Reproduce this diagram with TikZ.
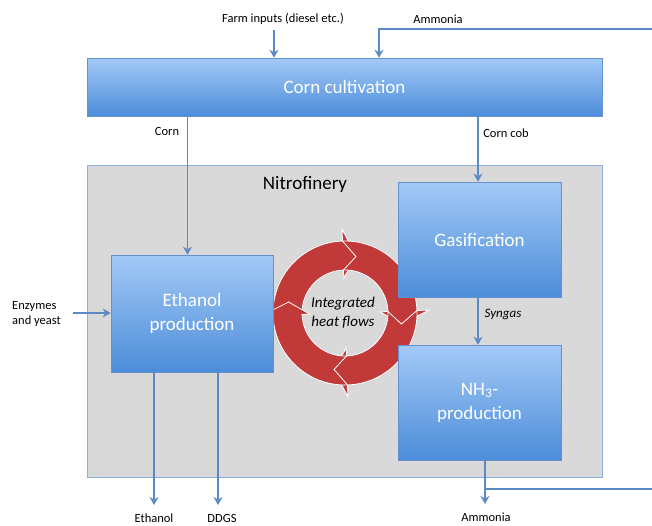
\documentclass[tikz,border=0pt]{standalone}
\usepackage{fontspec}
\setmainfont{Carlito}
\usetikzlibrary{arrows.meta}
\definecolor{boxtop}{RGB}{163,201,247}
\definecolor{boxbot}{RGB}{76,141,217}
\definecolor{boxedge}{RGB}{100,145,210}
\definecolor{flow}{RGB}{91,138,196}
\definecolor{ringred}{RGB}{193,57,56}
\definecolor{nitrofill}{RGB}{217,217,217}
\definecolor{nitroedge}{RGB}{140,175,220}
\begin{document}
\begin{tikzpicture}[x=1pt,y=-1pt,
  procbox/.style={draw=boxedge, line width=0.6pt, top color=boxtop, bottom color=boxbot,
    text=white, font=\fontsize{19}{24}\selectfont, align=center, inner sep=0pt},
  flowarr/.style={draw=flow, line width=1.8pt, -{Stealth[length=8pt,width=9pt]}},
  flowline/.style={draw=flow, line width=1.8pt},
  lbl/.style={font=\fontsize{12.5}{15.5}\selectfont, align=left, inner sep=0pt},
  ringseg/.style={fill=ringred, draw=white, line width=0.8pt},
]
\useasboundingbox (0,0) rectangle (652,525);

% Nitrofinery
\node[draw=nitroedge, fill=nitrofill, line width=0.8pt, minimum width=515pt, minimum height=312pt, inner sep=0pt]
  (nitro) at (344.5,321) {};
\node[font=\fontsize{19}{22}\selectfont, inner sep=0pt] (nitrolbl) at (305,184) {Nitrofinery};

% heat ring
\begin{scope}[shift={(345,313)}, y=1pt]
  \foreach \e in {92,2,-88,-178} {
    \pgfmathsetmacro\s{\e+90}
    \pgfmathsetmacro\st{\s-13}
    \pgfmathsetmacro\et{\e-13}
    \path[ringseg] (\s:72) -- (\st:57.5) -- (\s:43)
      arc[start angle=\s, end angle=\e, radius=43] -- (\e:35) -- (\et:57.5) -- (\e:84) -- (\e:72)
      arc[start angle=\e, end angle=\s, radius=72] -- cycle;
  }
\end{scope}
\node[font=\itshape\fontsize{15}{19}\selectfont, align=center, inner sep=0pt] (heat) at (343,313) {Integrated\\heat flows};

% process boxes
\node[procbox, minimum width=515pt, minimum height=58pt] (cc) at (344.5,87) {Corn cultivation};
\node[procbox, minimum width=162pt, minimum height=117pt] (eth) at (192,313.5) {Ethanol\\production};
\node[procbox, minimum width=163pt, minimum height=115pt] (gas) at (479.5,239.5) {Gasification};
\node[procbox, minimum width=163pt, minimum height=115pt] (nh3) at (479.5,402.5) {NH\textsubscript{3}-\\production};

% x positions
\coordinate (farmx) at (274,0);
\coordinate (ammtopx) at (379,0);
\coordinate (cornx) at (187.5,0);
\coordinate (cobx) at (478,0);
\coordinate (ethx) at (154,0);
\coordinate (ddgsx) at (218,0);
\coordinate (ammx) at (485,0);

% labels
\node[lbl] (farm) at (283,19) {Farm inputs (diesel etc.)};
\node[lbl] (ammtop) at (438,19) {Ammonia};
\node[lbl] (corn) at (167,131) {Corn};
\node[lbl] (cob) at (506,133) {Corn cob};
\node[lbl, anchor=west] (enz) at (12,314) {Enzymes\\and yeast};
\node[lbl, font=\itshape\fontsize{13}{15}\selectfont] (syn) at (503,314) {Syngas};
\node[lbl] (ethout) at (154,518) {Ethanol};
\node[lbl] (ddgs) at (222,518) {DDGS};
\node[lbl] (ammout) at (486,517) {Ammonia};

\coordinate (farmtop) at (274,30);
\coordinate (ammright) at (652,29);
\coordinate (ammcorner) at (379,29);
\coordinate (enzstart) at (73,313);
\coordinate (ethend) at (154,505);
\coordinate (ddgsend) at (218,505);
\coordinate (ammend) at (485,504);
\coordinate (ammbranch) at (485,489);
\coordinate (ammexit) at (652,489);

% connectors
\draw[flowarr] (farmtop) -- (cc.north -| farmx);
\draw[flowarr] (ammright) -- (ammcorner) -- (cc.north -| ammtopx);
\draw[flowarr] (cc.south -| cornx) -- (eth.north -| cornx);
\draw[flowarr] (cc.south -| cobx) -- (gas.north -| cobx);
\draw[flowarr] (enzstart) -- (eth.west |- enzstart);
\draw[flowarr] (gas.south -| cobx) -- (nh3.north -| cobx);
\draw[flowarr] (eth.south -| ethx) -- (ethend);
\draw[flowarr] (eth.south -| ddgsx) -- (ddgsend);
\draw[flowarr] (nh3.south -| ammx) -- (ammend);
\draw[flowline] (ammbranch) -- (ammexit);
\end{tikzpicture}
\end{document}
